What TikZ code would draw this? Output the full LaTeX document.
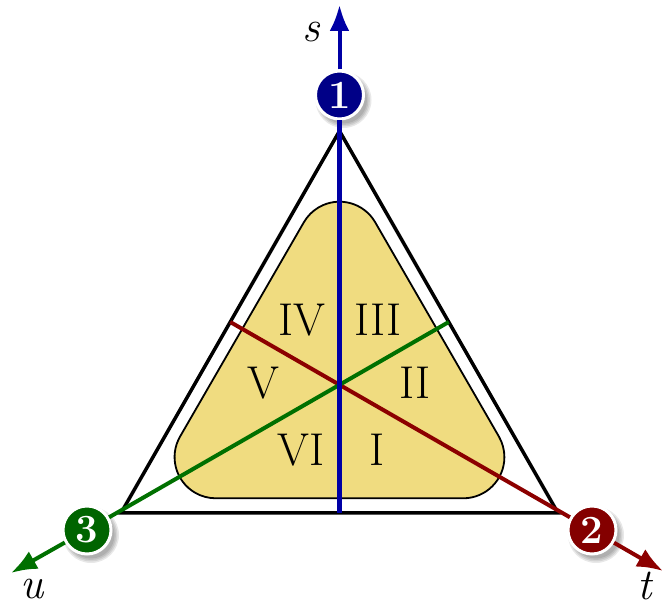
\documentclass[tikz,border=0pt]{standalone}
\usetikzlibrary{arrows.meta,calc}
\definecolor{sblue}{RGB}{0,0,165}
\definecolor{tred}{RGB}{140,0,0}
\definecolor{ugreen}{RGB}{0,112,0}
\definecolor{cblue}{RGB}{0,0,135}
\definecolor{cred}{RGB}{132,0,0}
\definecolor{cgreen}{RGB}{0,100,0}
\definecolor{sand}{RGB}{240,220,128}
\tikzset{
  vnode/.style={circle, minimum size=48pt, inner sep=0pt, draw=white, line width=3pt,
    text=white, font=\fontsize{40}{40}\selectfont\bfseries},
  roman/.style={font=\fontsize{46}{46}\selectfont, inner sep=0pt},
  axlabel/.style={font=\fontsize{44}{44}\selectfont\itshape, inner sep=0pt},
  axarrow/.style={line width=4pt, -{Latex[length=26pt,width=20pt]}},
  median/.style={line width=4pt},
  outertri/.style={line width=3.5pt, black},
  region/.style={fill=sand, draw=black, line width=1.8pt},
  vshadow/.style={fill=black, opacity=0.09},
}
\begin{document}
\begin{tikzpicture}[x=1pt,y=1pt]
\useasboundingbox (0,0) rectangle (665,608);
% vertices of the triangle
\coordinate (A) at (339.5,477);
\coordinate (B) at (558,95);
\coordinate (C) at (121,95);
\coordinate (mBC) at (339.5,95);
\coordinate (mAB) at ($(A)!0.5!(B)$);
\coordinate (mAC) at ($(A)!0.5!(C)$);
% circle positions
\coordinate (p1) at (339.5,513);
\coordinate (p2) at (592,78);
\coordinate (p3) at (87,78);
% arrow tips
\coordinate (ts) at (339.5,603);
\coordinate (tt) at (663,37);
\coordinate (tu) at (11,35);
% outer triangle
\draw[outertri] (A) -- (B) -- (C) -- cycle;
% rounded region (offset of a core triangle by radius 41.2)
\draw[region] (215.8,109.7) -- (463.2,109.7)
  arc[start angle=-90, end angle=30, radius=41.2]
  -- (375.2,385.7)
  arc[start angle=30, end angle=150, radius=41.2]
  -- (180.1,171.5)
  arc[start angle=150, end angle=270, radius=41.2] -- cycle;
% shadows of the vertex circles
\foreach \p in {p1,p2,p3}{
  \foreach \r in {28,26.5,25,23.5}{
    \fill[vshadow] ($(\p)+(4,-5)$) circle (\r);
  }
}
% region labels
\node[roman] (r4) at (302,288) {IV};
\node[roman] (r3) at (378,288) {III};
\node[roman] (r5) at (263,225) {V};
\node[roman] (r2) at (415,225) {II};
\node[roman] (r6) at (301,158) {VI};
\node[roman] (r1) at (377,158) {I};
% vertex circles
\node[vnode, fill=cblue] (c1) at (p1) {1};
\node[vnode, fill=cred] (c2) at (p2) {2};
\node[vnode, fill=cgreen] (c3) at (p3) {3};
% medians
\draw[median, tred] (c2) -- (mAC);
\draw[median, ugreen] (c3) -- (mAB);
\draw[median, sblue, line width=4.5pt] (c1) -- (mBC);
% axes
\draw[axarrow, sblue] (c1) -- (ts);
\draw[axarrow, tred] (c2) -- (tt);
\draw[axarrow, ugreen] (c3) -- (tu);
\node[axlabel] (ls) at (311,576) {s};
\node[axlabel] (lt) at (645,22) {t};
\node[axlabel] (lu) at (32,19) {u};
\end{tikzpicture}
\end{document}
